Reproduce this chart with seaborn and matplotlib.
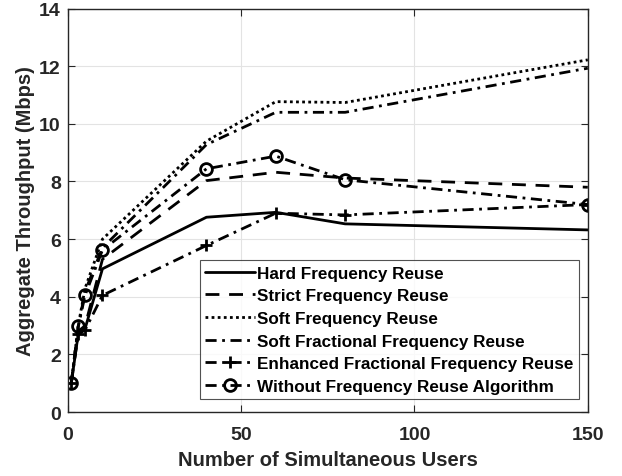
import matplotlib
matplotlib.use("Agg")
import matplotlib.pyplot as plt
import seaborn as sns
import pandas as pd

sns.set_theme(style="white")
plt.rcParams["font.family"] = ["Liberation Sans", "DejaVu Sans"]
plt.rcParams["font.weight"] = "bold"

users = [1, 3, 5, 10, 40, 60, 80, 150]

hard_fr = [1.0, 2.7, 2.9, 4.97, 6.76, 6.93, 6.53, 6.32]
strict_fr = [1.0, 2.8, 3.0, 5.3, 8.03, 8.32, 8.12, 7.8]
soft_fr = [1.0, 3.0, 4.3, 6.0, 9.4, 10.77, 10.74, 12.22]
soft_ffr = [1.0, 2.95, 4.2, 5.7, 9.28, 10.4, 10.4, 11.93]
enhanced_ffr = [1.0, 2.7, 2.85, 4.05, 5.78, 6.9, 6.84, 7.2]
without_fr = [1.0, 2.97, 4.06, 5.62, 8.44, 8.88, 8.06, 7.2]

labels = [
    "Hard Frequency Reuse",
    "Strict Frequency Reuse",
    "Soft Frequency Reuse",
    "Soft Fractional Frequency Reuse",
    "Enhanced Fractional Frequency Reuse",
    "Without Frequency Reuse Algorithm",
]
series = [hard_fr, strict_fr, soft_fr, soft_ffr, enhanced_ffr, without_fr]
styles = [
    dict(linestyle="-", marker=None),
    dict(linestyle=(0, (5, 3.5)), marker=None),
    dict(linestyle=(0, (1, 1.2)), marker=None),
    dict(linestyle=(0, (4, 2, 1, 2)), marker=None),
    dict(linestyle=(0, (4, 2, 1, 2)), marker="+"),
    dict(linestyle=(0, (4, 2, 1, 2)), marker="o"),
]

fig = plt.figure(figsize=(6.22, 4.77), dpi=100)
ax = fig.add_axes([0.109, 0.134, 0.836, 0.846])

for lab, vals, st in zip(labels, series, styles):
    df = pd.DataFrame({"users": users, "throughput": vals})
    sns.lineplot(data=df, x="users", y="throughput", ax=ax, color="black",
                 linewidth=2.0, linestyle=st["linestyle"], marker=st["marker"],
                 markersize=8.5, markeredgewidth=2.0, markerfacecolor="none",
                 markeredgecolor="black", label=lab)

ax.set_xlim(0, 150)
ax.set_ylim(0, 14)
ax.set_xticks([0, 50, 100, 150])
ax.set_yticks(range(0, 15, 2))
ax.grid(True, color="#e3e3e3", linewidth=0.8)
ax.set_axisbelow(True)

for sp in ax.spines.values():
    sp.set_color("#262626")
    sp.set_linewidth(1.0)
ax.tick_params(direction="in", length=5, width=0.8, color="#262626",
               labelsize=14, labelcolor="#262626", top=True, right=True,
               bottom=True, left=True)
ax.tick_params(axis="x", pad=10)
ax.tick_params(axis="y", pad=5)
for t in ax.get_xticklabels() + ax.get_yticklabels():
    t.set_fontweight("bold")

ax.set_xlabel("Number of Simultaneous Users", fontsize=14.5, fontweight="bold",
              color="#262626", labelpad=5)
ax.set_ylabel("Aggregate Throughput (Mbps)", fontsize=14.5, fontweight="bold",
              color="#262626", labelpad=3)

leg = ax.legend(loc="lower right", bbox_to_anchor=(0.983, 0.032),
                frameon=True, fancybox=False, edgecolor="#262626",
                prop={"weight": "bold", "size": 12.3}, handlelength=2.9,
                handletextpad=0.15, borderpad=0.3, labelspacing=0.45,
                borderaxespad=0)
leg.get_frame().set_linewidth(0.8)
for t in leg.get_texts():
    t.set_color("black")

fig.savefig("out.png", dpi=100)
